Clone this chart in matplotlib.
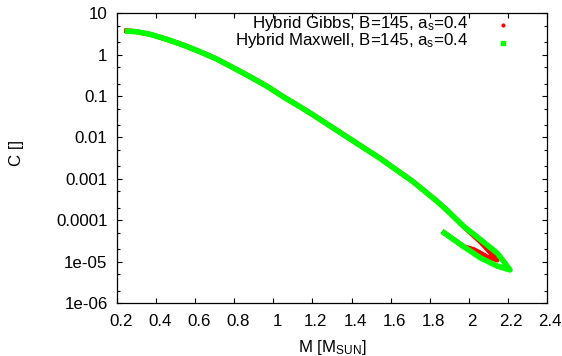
import matplotlib
matplotlib.use("Agg")
import matplotlib.pyplot as plt
from matplotlib.ticker import FixedLocator, FixedFormatter, NullFormatter
from matplotlib.transforms import ScaledTranslation

plt.rcParams['font.family'] = ['Liberation Sans', 'DejaVu Sans']
plt.rcParams['mathtext.fontset'] = 'custom'
plt.rcParams['mathtext.rm'] = 'Liberation Sans'
plt.rcParams['mathtext.it'] = 'Liberation Sans:italic'
plt.rcParams['mathtext.bf'] = 'Liberation Sans:bold'

# ---- data ----
maxwell_M = [0.239, 0.299, 0.368, 0.453, 0.538, 0.624, 0.709, 0.794, 0.880, 0.965,
             1.050, 1.136, 1.204, 1.375, 1.546, 1.716, 1.839, 1.888, 1.975, 2.061,
             2.147, 2.177, 2.212,
             2.147, 2.061, 1.975, 1.864]
maxwell_C = [3.73, 3.59, 3.11, 2.36, 1.71, 1.18, 0.787, 0.485, 0.294, 0.175,
             0.0967, 0.0553, 0.0349, 0.01045, 0.00314, 8.5e-4, 2.85e-4, 1.77e-4, 7.1e-5, 3.4e-5,
             1.6e-5, 1.05e-5, 6.3e-6,
             7.8e-6, 1.23e-5, 2.3e-5, 5.4e-5]

gibbs_M = [0.235, 0.299, 0.368, 0.453, 0.538, 0.624, 0.709, 0.794, 0.880, 0.965,
           1.050, 1.136, 1.204, 1.375, 1.546, 1.716, 1.839, 1.888, 1.975, 2.061,
           2.12, 2.147,
           2.10, 2.061, 2.027, 1.975, 1.864]
gibbs_C = [3.85, 3.59, 3.11, 2.36, 1.71, 1.18, 0.787, 0.485, 0.294, 0.175,
           0.0967, 0.0553, 0.0349, 0.01045, 0.00314, 8.5e-4, 2.85e-4, 1.77e-4, 7.0e-5, 3.0e-5,
           1.5e-5, 1.1e-5,
           1.25e-5, 1.6e-5, 1.95e-5, 2.3e-5, 5.4e-5]

labels = ['Hybrid Gibbs, B=145, a$_{\\mathregular{s}}$=0.4',
          'Hybrid Maxwell, B=145, a$_{\\mathregular{s}}$=0.4']

xticks = [0.2, 0.4, 0.6, 0.8, 1.0, 1.2, 1.4, 1.6, 1.8, 2.0, 2.2, 2.4]
xticklabels = ['0.2', '0.4', '0.6', '0.8', '1', '1.2', '1.4', '1.6', '1.8', '2', '2.2', '2.4']
yticks = [1e1, 1e0, 1e-1, 1e-2, 1e-3, 1e-4, 1e-5, 1e-6]
yticklabels = ['10', '1', '0.1', '0.01', '0.001', '0.0001', '1e-05', '1e-06']

FS = 12.2

fig = plt.figure(figsize=(5.62, 3.56), dpi=100)
ax = fig.add_axes([117.3 / 562, 1 - 303 / 356, 429.4 / 562, 289.7 / 356])

ax.plot(gibbs_M, gibbs_C, color='#ff0000', lw=3.6, solid_joinstyle='round',
        solid_capstyle='butt')
ax.plot(maxwell_M, maxwell_C, color='#00ff00', lw=4.0, solid_joinstyle='round',
        solid_capstyle='butt')

ax.set_yscale('log')
ax.set_xlim(0.2, 2.4)
ax.set_ylim(1e-6, 10)

ax.xaxis.set_major_locator(FixedLocator(xticks))
ax.xaxis.set_major_formatter(FixedFormatter(xticklabels))
ax.yaxis.set_major_locator(FixedLocator(yticks))
ax.yaxis.set_major_formatter(FixedFormatter(yticklabels))
minors = [m * 10.0 ** e for e in range(-6, 1) for m in (2, 5)]
ax.yaxis.set_minor_locator(FixedLocator(minors))
ax.yaxis.set_minor_formatter(NullFormatter())
ax.xaxis.set_minor_locator(FixedLocator([]))

ax.tick_params(axis='both', which='both', direction='in', top=True, right=True,
               width=0.8, colors='black', labelsize=FS)
ax.tick_params(axis='both', which='major', length=3.5)
ax.tick_params(axis='y', which='minor', length=2.2)
ax.tick_params(axis='x', which='major', pad=8)
ax.tick_params(axis='y', which='major', pad=7)

shift = ScaledTranslation(3.5 / 100, 0, fig.dpi_scale_trans)
for lab in ax.get_xticklabels():
    lab.set_transform(lab.get_transform() + shift)

for s in ax.spines.values():
    s.set_linewidth(0.9)
    s.set_color('black')

ax.set_xlabel('M [M$_{\\mathregular{SUN}}$]', fontsize=FS)
ax.set_ylabel('C []', fontsize=FS)
ax.xaxis.set_label_coords(0.5, -0.12)
ax.yaxis.set_label_coords(-0.218, 0.518)

# key in gnuplot style (text right-aligned, sample mark at right)
ax.text(0.8174, 0.9500, labels[0], transform=ax.transAxes, ha='right',
        va='baseline', fontsize=FS)
ax.text(0.8174, 0.8890, labels[1], transform=ax.transAxes, ha='right',
        va='baseline', fontsize=FS)
ax.plot([0.899], [0.9596], transform=ax.transAxes, marker='o', ms=2.0,
        color='#ff0000', ls='None', clip_on=False)
ax.plot([0.899], [0.8985], transform=ax.transAxes, marker='s', ms=2.9,
        color='#00ff00', ls='None', clip_on=False)

fig.savefig('out.png', dpi=100)
